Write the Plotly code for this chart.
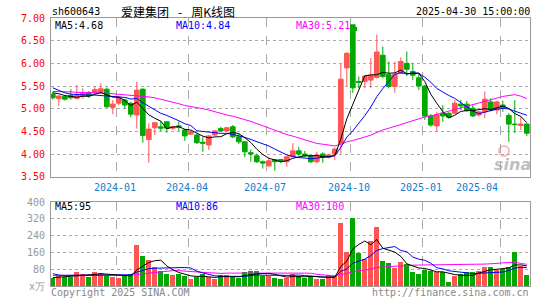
import plotly.graph_objects as go

# ---------------- data (weekly, 2023-10-20 .. 2025-04-30) ----------------
opens = [5.32, 5.22, 5.27, 5.29, 5.23, 5.28, 5.35, 5.35, 5.37, 5.43,
         5.03, 5.12, 5.19, 5.12, 4.86, 5.43, 4.32, 4.58, 4.60, 4.71,
         4.57, 4.62, 4.53, 4.44, 4.42, 4.26, 4.20, 4.42, 4.56, 4.51,
         4.60, 4.38, 4.27, 4.03, 3.96, 3.83, 3.74, 3.88, 3.88, 3.83,
         3.94, 4.07, 4.00, 3.96, 3.83, 4.00, 3.93, 4.00, 4.24, 5.90,
         6.85, 5.60, 5.60, 5.63, 5.69, 6.18, 5.75, 5.49, 5.78, 6.00,
         5.82, 5.68, 5.50, 4.84, 4.62, 4.90, 4.90, 4.90, 5.10, 5.10,
         5.01, 4.86, 4.93, 5.15, 4.97, 5.08, 4.85, 4.66, 4.63, 4.66]
highs = [5.37, 5.30, 5.30, 5.43, 5.52, 5.45, 5.39, 5.49, 5.56, 5.47,
         5.19, 5.28, 5.22, 5.15, 5.60, 5.45, 4.68, 4.70, 4.72, 4.72,
         4.62, 4.72, 4.55, 4.52, 4.45, 4.38, 4.42, 4.53, 4.60, 4.60,
         4.64, 4.45, 4.28, 4.10, 4.01, 3.86, 3.92, 3.89, 3.89, 3.95,
         4.24, 4.16, 4.07, 3.98, 4.05, 4.04, 4.00, 4.14, 5.99, 6.25,
         6.85, 5.71, 5.73, 6.12, 6.63, 6.37, 6.04, 6.04, 6.13, 6.26,
         6.00, 5.76, 5.52, 4.88, 4.93, 5.08, 4.92, 5.19, 5.19, 5.17,
         5.08, 4.95, 5.38, 5.23, 5.17, 5.18, 4.90, 5.19, 4.82, 4.68]
lows = [5.20, 5.06, 5.18, 5.20, 5.20, 5.22, 5.24, 5.30, 5.32, 5.03,
        4.88, 5.08, 4.99, 4.81, 4.56, 4.25, 3.81, 4.42, 4.50, 4.47,
        4.53, 4.51, 4.29, 4.42, 4.22, 4.05, 4.09, 4.40, 4.49, 4.50,
        4.35, 4.22, 3.93, 3.83, 3.80, 3.68, 3.72, 3.63, 3.80, 3.72,
        3.93, 3.96, 3.93, 3.80, 3.80, 3.81, 3.90, 3.87, 4.01, 5.50,
        5.35, 5.45, 5.45, 5.45, 5.67, 5.67, 5.45, 5.35, 5.76, 5.72,
        5.63, 5.41, 4.75, 4.60, 4.49, 4.71, 4.78, 4.88, 4.97, 4.93,
        4.82, 4.83, 4.79, 4.94, 4.88, 4.93, 4.27, 4.46, 4.53, 4.40]
closes = [5.24, 5.28, 5.21, 5.24, 5.29, 5.35, 5.28, 5.42, 5.44, 5.04,
          5.10, 5.25, 5.08, 4.88, 5.41, 4.41, 4.55, 4.69, 4.57, 4.57,
          4.60, 4.59, 4.40, 4.49, 4.25, 4.24, 4.40, 4.51, 4.51, 4.58,
          4.38, 4.27, 4.05, 4.00, 3.83, 3.80, 3.85, 3.83, 3.84, 3.94,
          4.07, 4.00, 3.96, 3.83, 3.98, 3.93, 3.98, 4.11, 5.65, 6.22,
          5.46, 5.58, 5.72, 5.74, 6.25, 5.71, 5.49, 5.76, 6.04, 5.87,
          5.74, 5.50, 4.84, 4.64, 4.87, 4.84, 4.81, 5.12, 5.06, 4.96,
          4.84, 4.93, 5.21, 4.97, 5.15, 5.03, 4.66, 4.65, 4.66, 4.46]
volumes = [40, 50, 44, 44, 66, 55, 44, 66, 62, 52,
           44, 39, 48, 56, 194, 141, 122, 89, 70, 56,
           51, 56, 46, 32, 43, 56, 41, 32, 51, 51,
           48, 38, 65, 70, 70, 46, 50, 40, 35, 40,
           59, 46, 40, 46, 33, 35, 51, 46, 300, 160,
           325, 158, 128, 212, 282, 120, 108, 85, 112, 104,
           69, 59, 74, 70, 66, 69, 17, 50, 55, 66,
           66, 72, 92, 92, 76, 80, 90, 162, 95, 52]

ma5_lead = [5.35, 5.33, 5.29, 5.27]
ma10_lead = [5.46, 5.40, 5.35, 5.32, 5.31, 5.30, 5.30, 5.30, 5.29]
ma30_lead = [5.38, 5.38, 5.37, 5.37, 5.36, 5.36, 5.36, 5.36, 5.35, 5.34,
             5.33, 5.32, 5.31, 5.30, 5.29, 5.28, 5.26, 5.24, 5.21, 5.18,
             5.15, 5.11, 5.07, 5.05, 5.02, 5.00, 4.97, 4.93, 4.89]
vma5_lead = [40, 42, 43, 45]
vma10_lead = [59, 52, 51, 51, 51, 51, 51, 52, 52]
vma30_lead = [50, 50, 50, 50, 50, 50, 50, 50, 50, 50, 50, 50, 50,
              51, 55, 58, 62, 66, 70, 72, 73, 73, 72, 70, 67, 65, 63, 61, 60]

# legend readings shown on the chart
price_ma_labels = ["MA5:4.68", "MA10:4.84", "MA30:5.21"]
vol_ma_labels = ["MA5:95", "MA10:86", "MA30:100"]

month_labels = ["2024-01", "2024-04", "2024-07", "2024-10", "2025-01", "2025-04"]
month_first_bar = [11, 23, 36, 50, 62, 75]
price_ticks = [3.5, 4.0, 4.5, 5.0, 5.5, 6.0, 6.5, 7.0]
vol_ticks = [0, 80, 160, 240, 320, 400]
vol_ticktext = ["x万", "80", "160", "240", "320", "400"]

# ---------------- helpers ----------------
def rolling(vals, w, lead):
    out = list(lead)
    for i in range(w - 1, len(vals)):
        out.append(sum(vals[i - w + 1:i + 1]) / w)
    return out

n = len(closes)
idx = list(range(n))
RED = "#ff5454"
GREEN = "#00a800"
bar_colors = [RED if c >= o else GREEN for o, c in zip(opens, closes)]

ma5 = rolling(closes, 5, ma5_lead)
ma10 = rolling(closes, 10, ma10_lead)
ma30 = rolling(closes, 30, ma30_lead)
vma5 = rolling(volumes, 5, vma5_lead)
vma10 = rolling(volumes, 10, vma10_lead)
vma30 = rolling(volumes, 30, vma30_lead)

grid_x = [m - 0.4 for m in month_first_bar]

fig = go.Figure()
fig.add_trace(go.Candlestick(
    x=idx, open=opens, high=highs, low=lows, close=closes,
    increasing=dict(line=dict(color=RED, width=1), fillcolor=RED),
    decreasing=dict(line=dict(color=GREEN, width=1), fillcolor=GREEN),
    whiskerwidth=0, xaxis="x", yaxis="y", hoverinfo="skip"))
for ys, col in [(ma30, "#ff00ff"), (ma10, "#0000ff"), (ma5, "#000000")]:
    fig.add_trace(go.Scatter(x=idx, y=ys, mode="lines", line=dict(color=col, width=1),
                             xaxis="x", yaxis="y", hoverinfo="skip"))

fig.add_trace(go.Bar(x=idx, y=volumes, marker=dict(color=bar_colors, line=dict(width=0)),
                     width=0.82, xaxis="x2", yaxis="y2", hoverinfo="skip"))
for ys, col in [(vma30, "#ff00ff"), (vma10, "#0000ff"), (vma5, "#000000")]:
    fig.add_trace(go.Scatter(x=idx, y=ys, mode="lines", line=dict(color=col, width=1),
                             xaxis="x2", yaxis="y2", hoverinfo="skip"))

W, H = 545, 300
PLOT_L, PLOT_R, PLOT_T, PLOT_B = 51, 530, 18, 286
L, T = PLOT_L, PLOT_T
R, B = W - PLOT_R, H - PLOT_B
PW, PH = PLOT_R - PLOT_L, PLOT_B - PLOT_T

def xp(px):
    return (px - PLOT_L) / PW

def yp(py):
    return (PLOT_B - py) / PH

main_dom = [yp(176.7), 1.0]
vol_dom = [0.0, yp(202)]

FONT = "DejaVu Sans Mono"
xrange_ = [-0.3, -0.3 + PW / 6.0]
axis_common = dict(showline=True, mirror=True, linecolor="#999999", linewidth=1,
                   zeroline=False, fixedrange=True, automargin=False)

fig.update_layout(
    width=W, height=H, margin=dict(l=L, r=R, t=T, b=B, pad=0),
    paper_bgcolor="white", plot_bgcolor="white", showlegend=False,
    font=dict(family=FONT, size=10, color="#000000"),
    boxgap=0.22, boxgroupgap=0,
    bargap=0,
    xaxis=dict(domain=[0, 1], range=xrange_, anchor="y", tickvals=grid_x,
               showticklabels=False, ticks="", showgrid=True, griddash="dash",
               gridcolor="#aaaaaa", gridwidth=1, rangeslider=dict(visible=False),
               **axis_common),
    yaxis=dict(domain=main_dom, range=[3.5, 7.0], anchor="x", tickvals=price_ticks,
               ticktext=["%.2f" % v for v in price_ticks],
               tickfont=dict(family=FONT, size=10, color="#ff0000"),
               ticks="outside", ticklen=3, tickcolor="rgba(0,0,0,0)",
               showgrid=True, griddash="dot", gridcolor="#aaaaaa", gridwidth=1,
               **axis_common),
    xaxis2=dict(domain=[0, 1], range=xrange_, anchor="y2", matches="x", tickvals=grid_x,
                showticklabels=False, ticks="", showgrid=True, griddash="dash",
                gridcolor="#aaaaaa", gridwidth=1, **axis_common),
    yaxis2=dict(domain=vol_dom, range=[0, 400], anchor="x2", tickvals=vol_ticks,
                ticktext=vol_ticktext,
                tickfont=dict(family=FONT, size=10, color="#999999"),
                ticks="outside", ticklen=3, tickcolor="rgba(0,0,0,0)",
                showgrid=True, griddash="dot", gridcolor="#aaaaaa", gridwidth=1,
                **axis_common),
)

ann = []
def text(px, py, s, color="#000000", anchor="left", size=10, family=FONT):
    ann.append(dict(x=xp(px), y=yp(py), xref="paper", yref="paper", text=s,
                    showarrow=False, xanchor=anchor, yanchor="middle", borderpad=0,
                    font=dict(family=family, size=size, color=color)))

# header
text(50.5, 11.5, "sh600643")
text(120, 11.5, "爱建集团\u2002\u2005-\u2002\u2005周K线图", size=12, family="Noto Sans CJK SC")
text(531, 11.5, "2025-04-30 15:00:00", anchor="right")
# MA labels
text(54, 25, price_ma_labels[0])
text(174.5, 25, price_ma_labels[1], color="#0000ff")
text(295, 25, price_ma_labels[2], color="#ff00ff")
text(54, 206, vol_ma_labels[0])
text(174.5, 206, vol_ma_labels[1], color="#0000ff")
text(295, 206, vol_ma_labels[2], color="#ff00ff")
# month labels
for lab, gx in zip(month_labels, grid_x):
    px = PLOT_L + (gx - xrange_[0]) * 6.0
    if lab == month_labels[-1]:
        text(px - 1, 187, lab, color="#0f7fcf", anchor="right")
    else:
        text(px - 1, 187, lab, color="#0f7fcf", anchor="center")
# footer
text(50, 292, "Copyright 2025 SINA.COM", color="#888888")
text(529.5, 292, "http://finance.sina.com.cn", color="#888888", anchor="right")
# watermark
text(512, 164, "<b><i>sina</i></b>", color="rgba(170,170,170,0.75)", anchor="center",
     size=16, family="DejaVu Sans")
fig.update_layout(annotations=ann)

fig.add_shape(type="rect", xref="paper", yref="paper",
              x0=xp(352), x1=xp(357), y0=yp(31), y1=yp(27),
              fillcolor=GREEN, line=dict(width=0))
fig.add_shape(type="circle", xref="paper", yref="paper",
              x0=xp(499), x1=xp(509), y0=yp(156), y1=yp(146),
              line=dict(color="rgba(230,110,110,0.45)", width=2))

# drop the browser's default 8px body margin so the figure fills the window
fig.write_html("out.html", config={"displayModeBar": False},
               post_script="document.body.style.margin='0';")
